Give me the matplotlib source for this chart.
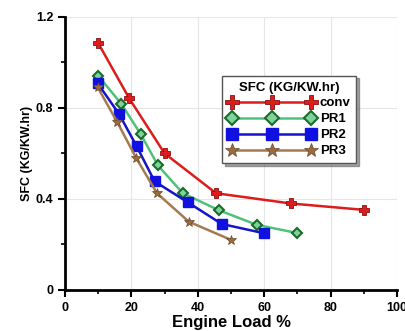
import matplotlib
matplotlib.use("Agg")
import matplotlib.pyplot as plt

plt.rcParams['font.family'] = ['Liberation Sans', 'DejaVu Sans']
plt.rcParams['font.weight'] = 'bold'

conv_x = [10, 19.3, 30, 45.5, 68, 90]
conv_y = [1.085, 0.843, 0.60, 0.425, 0.38, 0.352]
pr1_x = [10, 17, 22.8, 28, 35.5, 46.4, 57.8, 70]
pr1_y = [0.942, 0.817, 0.685, 0.547, 0.425, 0.35, 0.286, 0.25]
pr2_x = [9.8, 16.3, 21.6, 27, 37, 47.2, 60]
pr2_y = [0.909, 0.773, 0.631, 0.477, 0.385, 0.29, 0.249]
pr3_x = [9.8, 15.8, 21.4, 27.7, 37.3, 50]
pr3_y = [0.892, 0.736, 0.581, 0.425, 0.30, 0.22]

fig = plt.figure(figsize=(4.06, 3.31), dpi=100)
ax = fig.add_axes([0.16, 0.124, 0.818, 0.825])

ax.plot(conv_x, conv_y, color="#dd1c1c", lw=1.8, marker="P", ms=7.5,
        mfc="#dd1c1c", mec="#8a1010", mew=0.6, label="conv")
ax.plot(pr1_x, pr1_y, color="#4ec27a", lw=1.8, marker="D", ms=5,
        mfc="#7fd39a", mec="#1a6b2c", mew=1.5, label="PR1")
ax.plot(pr2_x, pr2_y, color="#1414c8", lw=1.8, marker="s", ms=6.5,
        mfc="#1010e0", mec="#1010e0", label="PR2")
ax.plot(pr3_x, pr3_y, color="#a67a50", lw=1.8, marker="*", ms=7.5,
        mfc="#9a6a40", mec="#6a4a2a", mew=0.5, label="PR3")

ax.set_xlim(0, 100)
ax.set_ylim(0, 1.2)
ax.set_xticks([0, 20, 40, 60, 80, 100])
ax.set_yticks([0, 0.4, 0.8, 1.2])
ax.set_yticklabels(["0", "0.4", "0.8", "1.2"])
ax.set_yticks([0.2, 0.6, 1.0], minor=True)
ax.set_xticks([10, 30, 50, 70, 90], minor=True)
ax.tick_params(axis="both", which="major", length=5, width=1.5, labelsize=9)
ax.tick_params(axis="both", which="minor", length=3, width=1.2)
ax.grid(True, which="major", color="#e6e6e6", lw=0.8)
ax.set_axisbelow(True)
for s in ["top", "right"]:
    ax.spines[s].set_visible(False)
for s in ["left", "bottom"]:
    ax.spines[s].set_linewidth(2)

ax.set_xlabel("Engine Load %", fontsize=12, fontweight="bold", labelpad=1)
ax.set_ylabel("SFC (KG/KW.hr)", fontsize=9, fontweight="bold", labelpad=2)

leg = ax.legend(title="SFC (KG/KW.hr)", loc="upper left",
                bbox_to_anchor=(0.473, 0.785), borderaxespad=0,
                fancybox=False, shadow=True,
                edgecolor="#555555", fontsize=9.5, title_fontsize=9.5,
                numpoints=3, handlelength=6.6, handletextpad=0.35,
                markerscale=1.35,
                borderpad=0.45, labelspacing=0.28, framealpha=1)
leg.get_title().set_fontweight("bold")

fig.savefig("out.png", dpi=100)
